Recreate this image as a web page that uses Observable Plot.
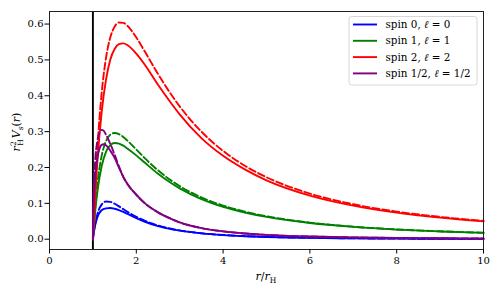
<!DOCTYPE html>
<html><head><meta charset="utf-8">
<script src="https://cdn.jsdelivr.net/npm/d3@7"></script>
<script src="https://cdn.jsdelivr.net/npm/@observablehq/plot@0.6"></script>
<style>body{margin:0;background:#fff} svg{display:block} svg text{font-family: "DejaVu Serif", serif !important;}</style>
</head><body><div id="chart"></div>
<script>
// ---- data ----
const rGrid = [1, 1.02, 1.05, 1.1, 1.2, 1.3, 1.4, 1.5, 1.6, 1.7, 1.8, 2.0, 2.2, 2.5, 2.8, 3, 3.5, 4, 4.5, 5, 6, 7, 8, 9, 10];
const blueSolid  = [0, 0.0176, 0.0383, 0.0601, 0.0810, 0.0860, 0.0872, 0.0850, 0.0810, 0.0760, 0.0705, 0.0590, 0.0487, 0.0365, 0.0281, 0.0238, 0.0162, 0.0114, 0.0084, 0.0063, 0.0038, 0.0025, 0.0017, 0.0012, 0.0009];
const blueDashed = [0, 0.0185, 0.0411, 0.0683, 0.0965, 0.1050, 0.1041, 0.0988, 0.0916, 0.0838, 0.0762, 0.0625, 0.0512, 0.0384, 0.0293, 0.0247, 0.0167, 0.0117, 0.0085, 0.0064, 0.0039, 0.0025, 0.0017, 0.0012, 0.0009];
const greenSolid  = [0, 0.0320, 0.0734, 0.1293, 0.2026, 0.2431, 0.2624, 0.2682, 0.2666, 0.2608, 0.2524, 0.2338, 0.2130, 0.1824, 0.1566, 0.1417, 0.1119, 0.0905, 0.0745, 0.0621, 0.0451, 0.0343, 0.0268, 0.0216, 0.0177];
const greenDashed = [0, 0.0377, 0.0864, 0.1503, 0.2315, 0.2731, 0.2915, 0.2963, 0.2930, 0.2850, 0.2743, 0.2500, 0.2254, 0.1920, 0.1640, 0.1481, 0.1166, 0.0938, 0.0768, 0.0640, 0.0463, 0.0350, 0.0273, 0.0220, 0.0180];
const redSolid  = [0, 0.0490, 0.1153, 0.2115, 0.3524, 0.4437, 0.5004, 0.5304, 0.5438, 0.5461, 0.5409, 0.5175, 0.4859, 0.4308, 0.3799, 0.3482, 0.2819, 0.2326, 0.1947, 0.1642, 0.1216, 0.0936, 0.0742, 0.0603, 0.0498];
const redDashed = [0, 0.0577, 0.1357, 0.2459, 0.4051, 0.5042, 0.5623, 0.5926, 0.6042, 0.6034, 0.5944, 0.5625, 0.5225, 0.4608, 0.4041, 0.3704, 0.2999, 0.2461, 0.2049, 0.1728, 0.1273, 0.0975, 0.0769, 0.0622, 0.0513];
const rHalf = [1, 1.005, 1.01, 1.02, 1.05, 1.1, 1.15, 1.2, 1.25, 1.3, 1.4, 1.5, 1.6, 1.7, 1.8, 2.0, 2.2, 2.5, 2.8, 3, 3.5, 4, 4.5, 5, 6, 7, 8, 9, 10];
const purpleSolid  = [0, 0.054, 0.076, 0.107, 0.170, 0.225, 0.252, 0.263, 0.265, 0.262, 0.247, 0.227, 0.200, 0.174, 0.153, 0.124, 0.100, 0.075, 0.057, 0.047, 0.031, 0.022, 0.016, 0.012, 0.0075, 0.005, 0.0035, 0.0026, 0.002];
const purpleDashed = [0, 0.068, 0.096, 0.136, 0.215, 0.272, 0.297, 0.305, 0.302, 0.292, 0.266, 0.236, 0.203, 0.174, 0.153, 0.124, 0.100, 0.075, 0.057, 0.047, 0.031, 0.022, 0.016, 0.012, 0.0075, 0.005, 0.0035, 0.0026, 0.002];
const horizon = [1];
const xTicks = [0, 2, 4, 6, 8, 10];
const yTicks = [0, 0.1, 0.2, 0.3, 0.4, 0.5, 0.6];
const spinLabels = ["0", "1", "2", "1/2"];
const ellLabels = ["0", "1", "2", "1/2"];
const colors = ["#0000ff", "#008000", "#ff0000", "#800080"];

const series = [
  {r: rGrid, solid: blueSolid, dashed: blueDashed},
  {r: rGrid, solid: greenSolid, dashed: greenDashed},
  {r: rGrid, solid: redSolid, dashed: redDashed},
  {r: rHalf, solid: purpleSolid, dashed: purpleDashed}
];
const rows = (r, v) => r.map((x, i) => ({r: x, v: v[i]}));

const LW = 1.9;
const lineMarks = [];
series.forEach((s, i) => {
  lineMarks.push(Plot.line(rows(s.r, s.solid), {x: "r", y: "v", stroke: colors[i], strokeWidth: LW, curve: "monotone-x"}));
  lineMarks.push(Plot.line(rows(s.r, s.dashed), {x: "r", y: "v", stroke: colors[i], strokeWidth: LW, strokeDasharray: "7,3", curve: "monotone-x"}));
});

const FONT = "DejaVu Serif, serif";
const plot = Plot.plot({
  width: 500, height: 294,
  marginLeft: 49, marginRight: 17, marginTop: 11, marginBottom: 45,
  x: {domain: [0, 10]},
  y: {domain: [-0.0287, 0.635]},
  style: {fontFamily: FONT, fontSize: "10px", color: "#000", background: "#fff"},
  marks: [
    Plot.ruleX(horizon, {stroke: "#000", strokeWidth: 1.9}),
    ...lineMarks,
    Plot.frame({stroke: "#222", strokeWidth: 1}),
    Plot.axisX({ticks: xTicks, tickSize: 4.5, tickPadding: 2.5, label: null, tickFormat: d => String(d)}),
    Plot.axisY({ticks: yTicks, tickSize: 4.5, tickPadding: 1.5, label: null, tickFormat: d3.format(".1f")})
  ]
});
document.getElementById("chart").appendChild(plot);

const svg = d3.select(plot);
// y axis label
const yl = svg.append("text")
  .attr("transform", "translate(20,132) rotate(-90)")
  .attr("text-anchor", "middle")
  .attr("font-family", FONT).attr("font-size", 11).attr("fill", "#000");
yl.append("tspan").attr("font-style", "italic").text("r");
yl.append("tspan").attr("font-size", 7.5).attr("dy", -4.5).text("2");
yl.append("tspan").attr("font-size", 7.5).attr("dx", -4.5).attr("dy", 7.5).text("H");
yl.append("tspan").attr("font-style", "italic").attr("dx", 1).attr("dy", -3).text("V");
yl.append("tspan").attr("font-style", "italic").attr("font-size", 7.5).attr("dy", 2.5).text("s");
yl.append("tspan").attr("dy", -2.5).text("(");
yl.append("tspan").attr("font-style", "italic").text("r");
yl.append("tspan").text(")");

// x axis label
const xl = svg.append("text")
  .attr("x", 266).attr("y", 280)
  .attr("text-anchor", "middle")
  .attr("font-family", FONT).attr("font-size", 11).attr("fill", "#000");
xl.append("tspan").attr("font-style", "italic").text("r");
xl.append("tspan").text("/");
xl.append("tspan").attr("font-style", "italic").text("r");
xl.append("tspan").attr("font-size", 7.5).attr("dy", 2.5).text("H");

// legend
const lg = svg.append("g").attr("text-anchor", "start");
lg.append("rect").attr("x", 349).attr("y", 16.5).attr("width", 128).attr("height", 68.5)
  .attr("rx", 2.5).attr("fill", "#fff").attr("fill-opacity", 0.8)
  .attr("stroke", "#cccccc").attr("stroke-width", 0.8);
spinLabels.forEach((sp, i) => {
  const y = 24.5 + i * 16.3;
  lg.append("line").attr("x1", 353).attr("x2", 377).attr("y1", y).attr("y2", y)
    .attr("stroke", colors[i]).attr("stroke-width", LW);
  const t = lg.append("text").attr("x", 385.5).attr("y", y + 3.6)
    .attr("text-anchor", "start")
    .attr("font-family", FONT).attr("font-size", 10.4).attr("fill", "#000");
  t.append("tspan").text("spin " + sp + ", ");
  t.append("tspan").attr("font-style", "italic").text("\u2113");
  t.append("tspan").text(" = " + ellLabels[i]);
});
</script>
</body></html>
